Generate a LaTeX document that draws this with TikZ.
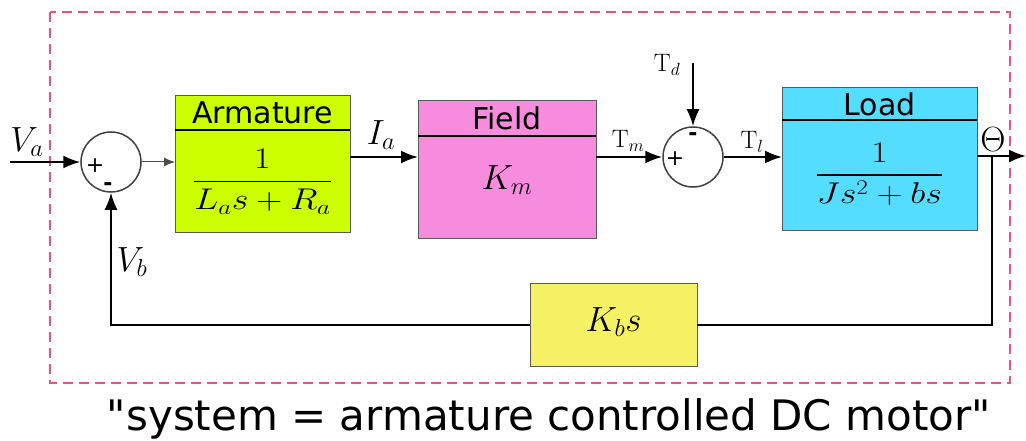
\RequirePackage{fix-cm}
\documentclass[tikz,border=0pt]{standalone}
\usepackage{amsmath}
\usepackage{amssymb}
\usepackage{fontspec}
\usepackage{xcolor}
\usepackage{tikz}
\usetikzlibrary{arrows.meta, positioning}
\newfontfamily\labelfont{DejaVu Sans}
\definecolor{armcol}{HTML}{CCFF00}
\definecolor{fieldcol}{HTML}{F78CDE}
\definecolor{loadcol}{HTML}{55DDFF}
\definecolor{kbcol}{HTML}{F5F064}
\definecolor{framecol}{HTML}{EE4F84}

\begin{document}
\begin{tikzpicture}[x=1pt, y=-1pt,
		wire/.style={line width=2pt},
		blk/.style={draw=gray!70!black, line width=1pt, inner sep=0pt, outer sep=0pt},
		ttl/.style={inner sep=0pt, outer sep=0pt, font=\labelfont\fontsize{30}{34}\selectfont},
		divider/.style={line width=2.2pt},
		sumc/.style={circle, draw=black!75, line width=1.5pt, minimum size=60pt, inner sep=0pt, fill=white},
		lbl/.style={inner sep=0pt, font=\fontsize{35}{40}\selectfont},
		tlbl/.style={inner sep=0pt, font=\fontsize{35}{40}\selectfont, scale=0.72},
		fracl/.style={inner sep=0pt, font=\fontsize{30}{36}\selectfont, xscale=1.2},
		sign/.style={inner sep=0pt, font=\labelfont\fontsize{22}{24}\selectfont},
		>={Latex[length=17pt, width=13pt]}]
		\useasboundingbox (0,0) rectangle (1026,441);
		% Frame:
		\draw[framecol, line width=2.5pt, dash pattern=on 10pt off 6pt] (50,12) rectangle (1010,383);
		% Summing points and blocks:
		\node[sumc](Sum1) at (111,162){};
		\node[sign](P1) at (95,166){+};
		\node[sign](M1) at (108,187){\textbf{-}};
		\node[sumc](Sum2) at (693,157){};
		\node[sign](P2) at (675,159){+};
		\node[sign](M2) at (693,137){\textbf{-}};
		\node[blk, fill=armcol, minimum width=175, minimum height=136](Arm) at (262.5,164){};
		\node[ttl, minimum width=175, minimum height=34, anchor=north](ArmT) at (Arm.north){Armature};
		\node[fracl](ArmF) at (262.5,182){$\dfrac{1}{L_a s+R_a}$};
		\node[blk, fill=fieldcol, minimum width=178, minimum height=137](Field) at (507,169.5){};
		\node[ttl, minimum width=178, minimum height=35, anchor=north](FieldT) at (Field.north){Field};
		\node[lbl](FieldK) at (507,180){$K_m$};
		\node[blk, fill=loadcol, minimum width=195, minimum height=142](Load) at (879.5,159){};
		\node[ttl, minimum width=195, minimum height=32, anchor=north](LoadT) at (Load.north){Load};
		\node[fracl](LoadF) at (879.5,174){$\dfrac{1}{Js^2+bs}$};
		\node[blk, fill=kbcol, minimum width=167, minimum height=83](Kb) at (613.5,324.5){};
		\node[lbl](KbL) at (613.5,322){$K_b s$};
		\draw[divider] (ArmT.south west) -- (ArmT.south east);
		\draw[divider] (FieldT.south west) -- (FieldT.south east);
		\draw[divider] (LoadT.south west) -- (LoadT.south east);
		% Signal labels:
		\node[lbl](Va) at (27,142){$V_a$};
		\node[lbl](Vb) at (132,262){$V_b$};
		\node[lbl](Ia) at (381,135){$I_a$};
		\node[tlbl](Tm) at (628,141){$\mathrm{T}_m$};
		\node[tlbl](Td) at (667,65){$\mathrm{T}_d$};
		\node[tlbl](Tl) at (752,142){$\mathrm{T}_l$};
		\node[lbl](Th) at (993,140){$\Theta$};
		\coordinate (VaIn) at (10,162);
		\coordinate (TdIn) at (693,63);
		\coordinate (Br) at (992,156);
		\coordinate (Out) at (1026,156);
		% Wires:
		\draw[wire, ->] (VaIn) -- (Sum1.west);
		\draw[line width=1pt, black!70, -{Latex[length=11pt, width=9pt]}] (Sum1.east) -- (Sum1 -| Arm.west);
		\draw[wire, ->] (Arm.east |- Sum2) -- (Field.west |- Sum2);
		\draw[wire, ->] (Field.east |- Sum2) -- (Sum2.west);
		\draw[wire, ->] (TdIn) -- (Sum2.north);
		\draw[wire, ->] (Sum2.east) -- (Sum2 -| Load.west);
		\draw[wire, ->] (Load.east |- Br) -- (Out);
		\draw[wire] (Br) |- (Kb.east);
		\draw[wire, ->] (Kb.west) -| (Sum1.south);
		% Caption:
		\node[font=\labelfont\fontsize{42}{48}\selectfont, inner sep=0pt, anchor=base](Cap) at (549,430){"system = armature controlled DC motor"};
	\end{tikzpicture}
\end{document}
